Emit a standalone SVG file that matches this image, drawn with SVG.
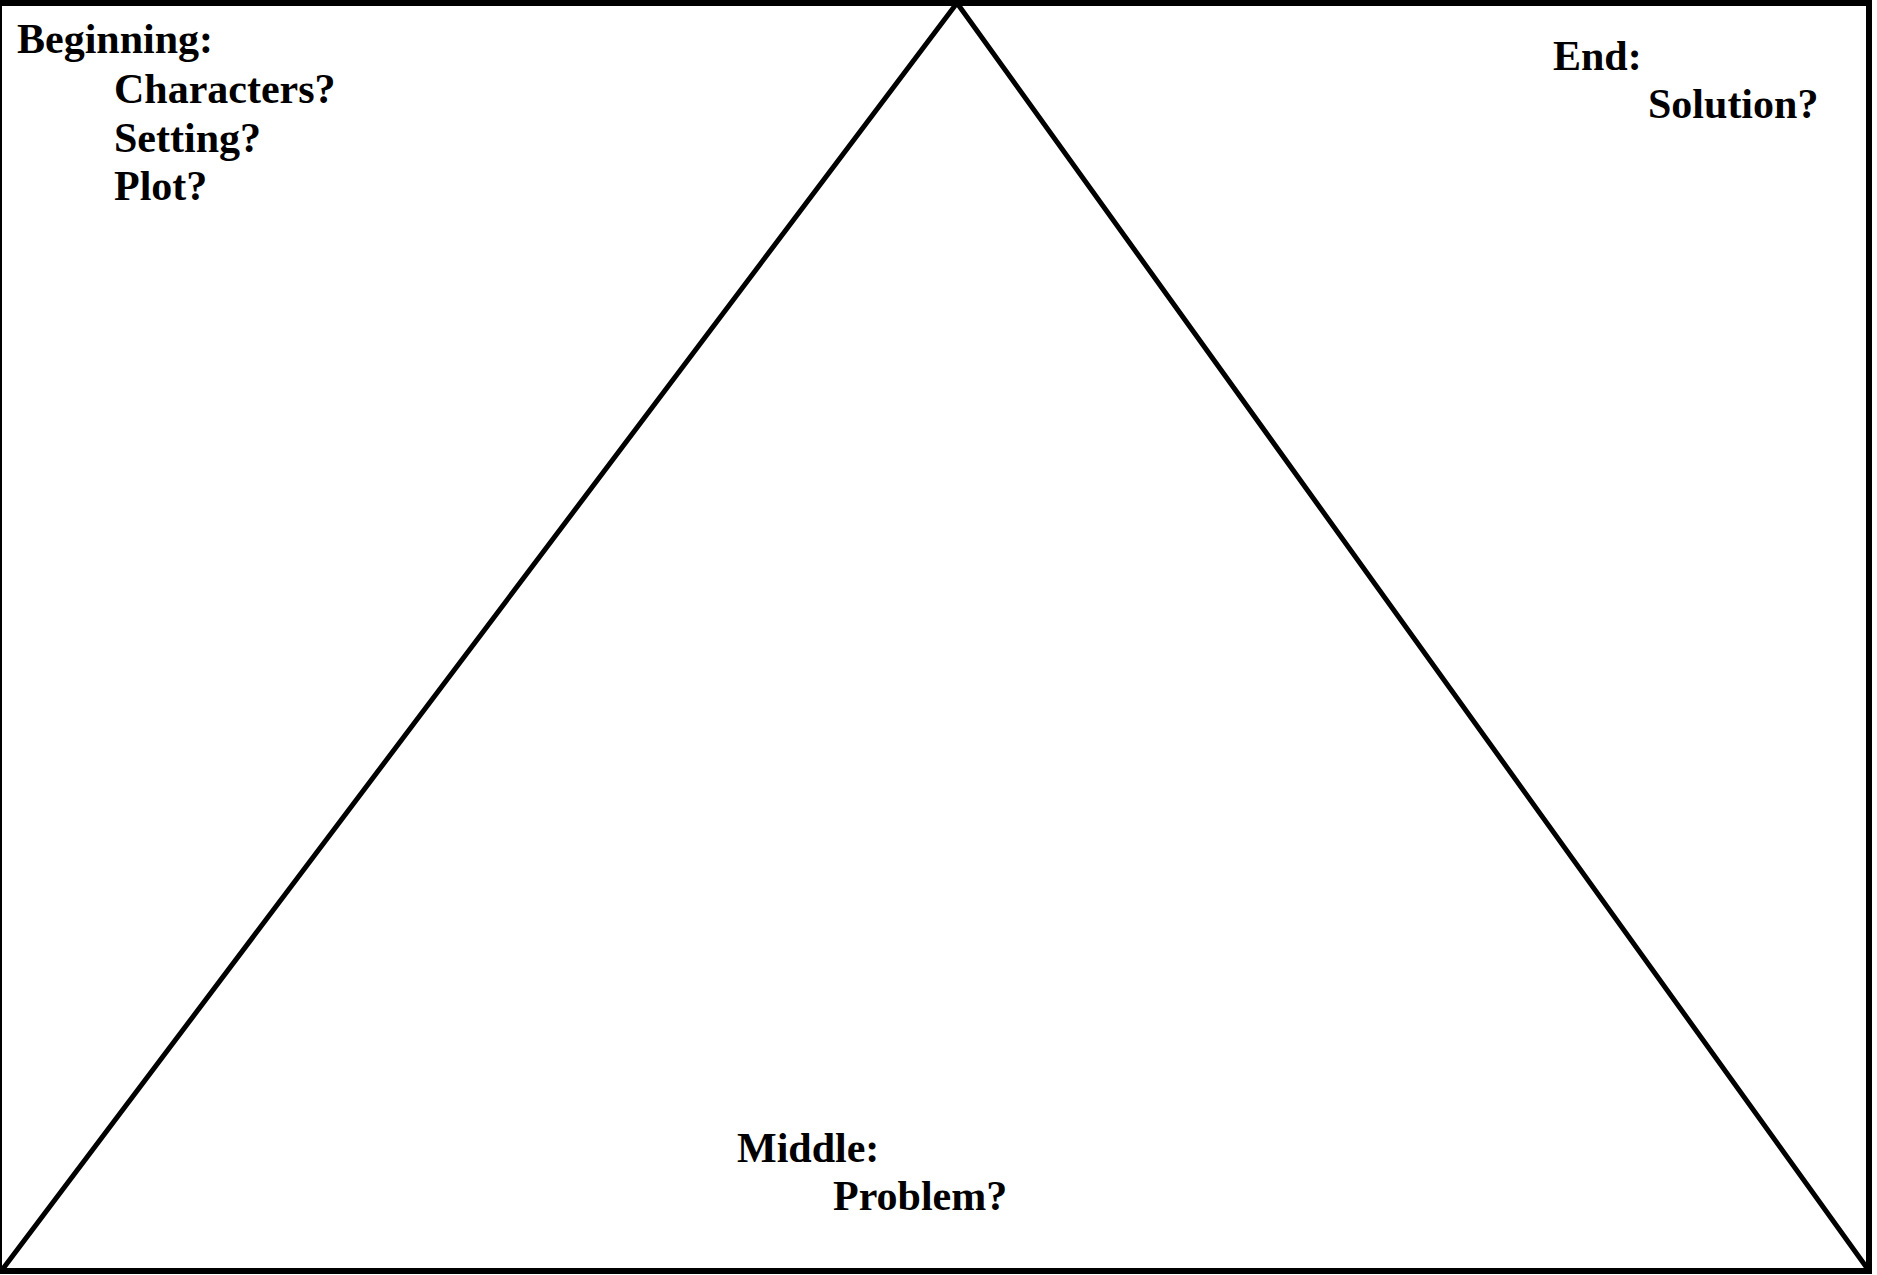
<svg xmlns="http://www.w3.org/2000/svg" width="1877" height="1275" viewBox="0 0 1877 1275">
<style>
.t{font-family:"Liberation Serif","Times New Roman",serif;font-weight:bold;font-size:42px;fill:#000}
.ln{stroke:#000;stroke-width:5;fill:none;stroke-linejoin:miter}
</style>
<rect x="0" y="0" width="1877" height="1275" fill="#fff"/>
<g id="frame">
<rect x="-1" y="3" width="1870" height="1268" fill="none" stroke="#000" stroke-width="6"/>
</g>
<g id="connectors">
<polyline class="ln" points="2,1270 957,3 1867,1268"/>
</g>
<g id="beginning">
<text class="t" x="17" y="53">Beginning:</text>
<text class="t" x="114" y="103">Characters?</text>
<text class="t" x="114" y="152">Setting?</text>
<text class="t" x="114" y="200">Plot?</text>
</g>
<g id="end">
<text class="t" x="1553" y="70">End:</text>
<text class="t" x="1648" y="118">Solution?</text>
</g>
<g id="middle">
<text class="t" x="737" y="1162">Middle:</text>
<text class="t" x="833" y="1210">Problem?</text>
</g>
</svg>
